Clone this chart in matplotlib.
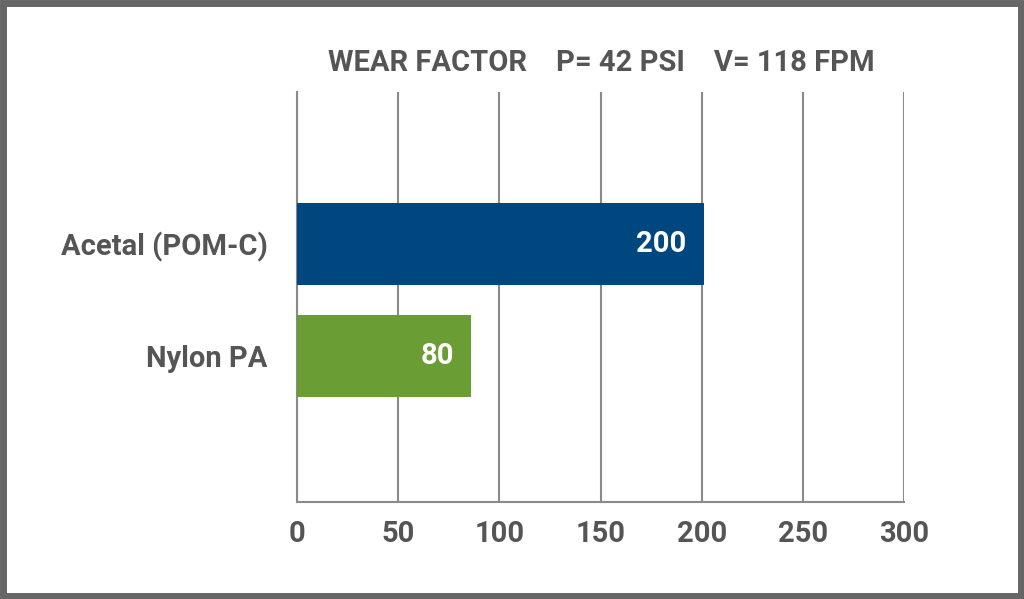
import matplotlib.pyplot as plt
from matplotlib.patches import Rectangle

materials = ["Acetal (POM-C)", "Nylon PA"]
bar_lengths = [201, 86]
bar_labels = ["200", "80"]
bar_colors = ["#00467f", "#6b9d35"]
x_ticks = [0, 50, 100, 150, 200, 250, 300]

plt.rcParams['font.family'] = ['Roboto', 'DejaVu Sans']
text_gray = "#555555"
grid_gray = "#8a8a8a"

fig = plt.figure(figsize=(10.24, 5.99), dpi=100)
ax = fig.add_axes([0.290, 0.162, 0.593, 0.684])

ypos = list(range(len(materials)))
ax.barh(ypos, bar_lengths, height=0.73, color=bar_colors, zorder=3)
for y, length, lab in zip(ypos, bar_lengths, bar_labels):
    ax.text(length - 8.5, y, lab, color="white", fontsize=21, fontweight="bold",
            ha="right", va="center", zorder=4)

ax.set_xlim(0, 300)
ax.set_ylim(2.304, -1.357)
ax.set_xticks(x_ticks)
ax.set_xticklabels([str(t) for t in x_ticks], fontsize=21, fontweight="bold", color=text_gray)
ax.set_yticks(ypos)
ax.set_yticklabels(materials, fontsize=21, fontweight="bold", color=text_gray)
ax.tick_params(axis="x", length=0, pad=13)
ax.tick_params(axis="y", length=0, pad=21)
ax.xaxis.grid(True, color=grid_gray, linewidth=1.5, zorder=0)
for s in ["top", "right"]:
    ax.spines[s].set_visible(False)
for s in ["left", "bottom"]:
    ax.spines[s].set_color(grid_gray)
    ax.spines[s].set_linewidth(1.5)

fig.text(0.587, 0.895, "WEAR FACTOR    P= 42 PSI    V= 118 FPM", ha="center", va="center",
         fontsize=21, fontweight="bold", color=text_gray)

fig.patches.append(Rectangle((0.003, 0.005), 0.994, 0.99, transform=fig.transFigure,
                             fill=False, edgecolor="#666666", linewidth=5))

fig.savefig("out.png", dpi=100)
